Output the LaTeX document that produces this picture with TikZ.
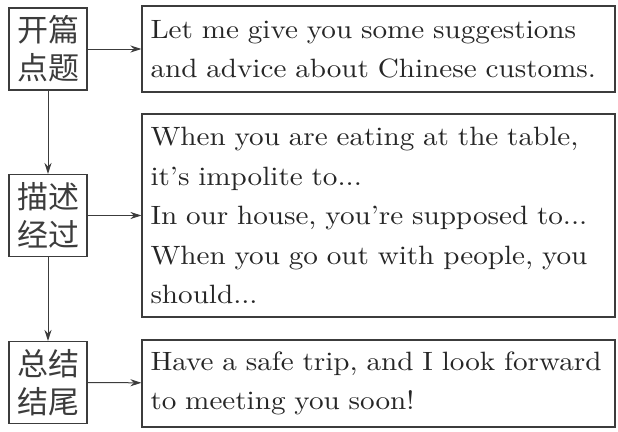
\documentclass[tikz,border=0pt]{standalone}
\usepackage{fontspec}
\newfontfamily\cjk{Noto Sans CJK SC}
\newfontfamily\widerm{lmroman10-regular}[Extension=.otf, FakeStretch=1.1]
\usepackage{tikz}
\usetikzlibrary{arrows.meta,positioning}
\definecolor{inkgray}{RGB}{60,60,60}

\tikzset{
    stagebox/.style={draw=inkgray, line width=1.1pt, minimum width=78pt, minimum height=82pt,
        inner sep=0pt, align=center, font=\cjk\fontsize{31}{38}\selectfont, text=inkgray},
    textbox/.style={draw=inkgray, line width=1.1pt, text width=456pt, inner xsep=8.5pt,
        align=left, font=\widerm\fontsize{26.5}{39.5}\selectfont, text=black!85},
    flow/.style={draw=inkgray, line width=1pt, -{Stealth[length=11pt, width=7pt]}}
}

\begin{document}
\begin{tikzpicture}[x=1pt, y=-1pt]
    \useasboundingbox (0,0) rectangle (618,431);
    % left column
    \node[stagebox] (open) at (48,49) {开篇\\点题};
    \node[stagebox] (body) at (48,215.5) {描述\\经过};
    \node[stagebox] (close) at (48,382.5) {总结\\结尾};
    % right column
    \node[textbox, minimum height=86pt] (intro) at (378.5,49)
        {Let me give you some suggestions\\and advice about Chinese customs.};
    \node[textbox, minimum height=203pt] (advice) at (378.5,215.5)
        {When you are eating at the table,\\it’s impolite to...\\In our house, you’re supposed to...\\When you go out with people, you\\should...};
    \node[textbox, minimum height=87pt] (wish) at (378.5,383.5)
        {Have a safe trip, and I look forward\\to meeting you soon!};
    % connectors
    \draw[flow] (open) -- (intro);
    \draw[flow] (body) -- (advice);
    \draw[flow] (close) -- (wish);
    \draw[flow] (open) -- (body);
    \draw[flow] (body) -- (close);
\end{tikzpicture}
\end{document}
